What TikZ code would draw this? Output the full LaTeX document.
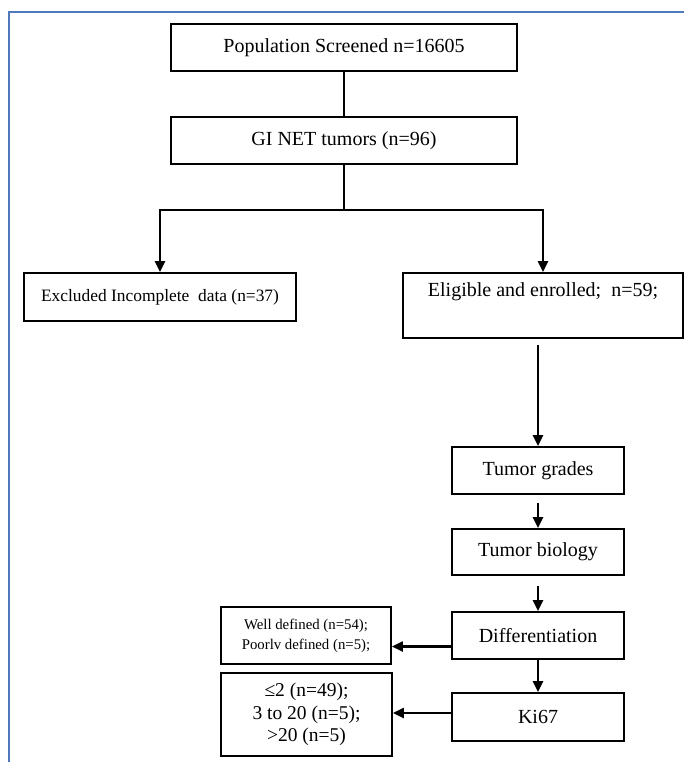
\documentclass[tikz,border=0pt]{standalone}
\usepackage{fontspec}
\setmainfont{Liberation Serif}
\usetikzlibrary{positioning}
\usetikzlibrary{arrows.meta}
\definecolor{frameblue}{RGB}{79,120,189}
\tikzset{
        flownode/.style={align=center,inner sep=0pt,draw=black,line width=1.8pt,rectangle},
        % Main boxes
        node_main/.style={flownode, font=\fontsize{20}{24}\selectfont},
        % Result boxes on the left
        node_result/.style={flownode, font=\fontsize{14.8}{20}\selectfont},
        % Connectors
        link/.style={line width=2.2pt, draw=black},
        link_arrow/.style={link, -{Triangle[length=11pt,width=10pt]}}
}
\begin{document}
\begin{tikzpicture}[x=1pt, y=-1pt]
    \useasboundingbox (0,0) rectangle (684,762);
    % Frame
    \draw[frameblue, line width=2pt] (684,12) -- (9,12) -- (9,762);
    % Boxes
    \node[node_main, minimum width=346pt, minimum height=47pt] (pop) at (344,47.5) {Population Screened n=16605};
    \node[node_main, minimum width=346pt, minimum height=47pt] (ginet) at (344,140.5) {GI NET tumors (n=96)};
    \node[node_main, minimum width=272pt, minimum height=48pt, font=\fontsize{17.4}{20}\selectfont] (excl) at (160,297) {Excluded Incomplete\ \ data (n=37)};
    \node[node_main, minimum width=280pt, minimum height=65pt] (elig) at (543,305.5) {Eligible and enrolled;\ \ n=59;\\ \strut};
    \node[node_main, minimum width=172pt, minimum height=47pt] (grades) at (538,470.5) {Tumor grades};
    \node[node_main, minimum width=172pt, minimum height=46pt] (biology) at (538,552) {Tumor biology};
    \node[node_main, minimum width=172pt, minimum height=47pt] (diff) at (538,635.5) {Differentiation};
    \node[node_main, minimum width=172pt, minimum height=48pt] (ki) at (538,717) {Ki67};
    \node[node_result, minimum width=170pt, minimum height=57pt] (well) at (306,635.5) {Well defined (n=54);\\ Poorlv defined (n=5);};
    \node[node_main, minimum width=171pt, minimum height=83pt, font=\fontsize{19.5}{22.5}\selectfont] (kires) at (306.5,714.5) {≤2 (n=49);\\ 3 to 20 (n=5);\\ >20 (n=5)};
    % Connectors
    \draw[link] (pop.south) -- (ginet.north);
    \draw[link] (ginet.south) -- ++(0,45) coordinate (split);
    \draw[link_arrow] (split) -| (excl.north);
    \draw[link_arrow] (split) -| (elig.north);
    \draw[link_arrow, shorten <=6pt] (elig.south -| grades.north) -- (grades.north);
    \draw[link_arrow, shorten <=8pt] (grades.south) -- (biology.north);
    \draw[link_arrow, shorten <=10pt] (biology.south) -- (diff.north);
    \draw[link_arrow] (diff.south) -- (ki.north);
    \coordinate (diffout) at ([yshift=-11pt]diff.west);
    \coordinate (kiout) at ([yshift=4pt]ki.west);
    \draw[link_arrow] (diffout) -- (diffout -| well.east);
    \draw[link_arrow] (kiout) -- (kiout -| kires.east);
\end{tikzpicture}
\end{document}
